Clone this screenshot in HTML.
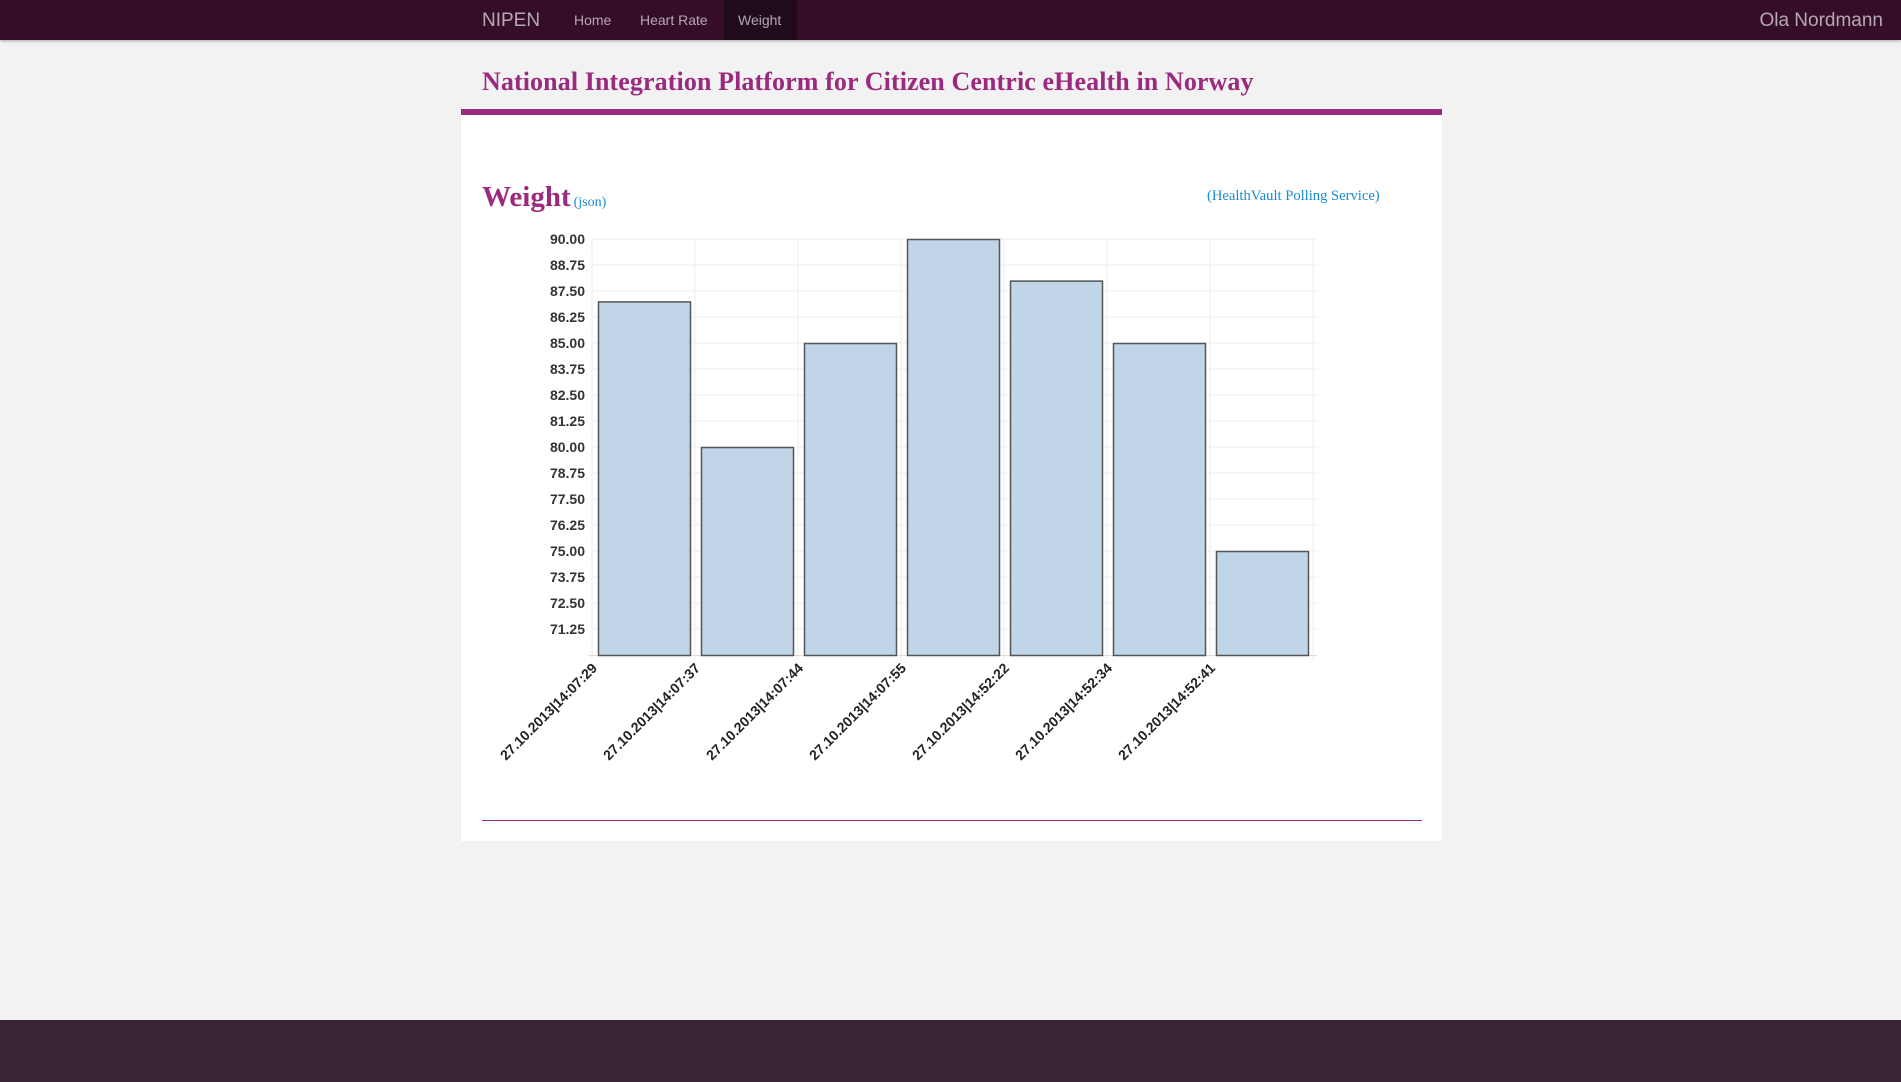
<!DOCTYPE html>
<html><head><meta charset="utf-8">
<style>
body{margin:0;width:1901px;height:1082px;background:#f2f2f2;position:relative;overflow:hidden;font-family:"Liberation Sans",sans-serif}
.nav{position:absolute;left:0;top:0;width:1901px;height:40px;background:#350d29;box-shadow:0 1px 3px rgba(0,0,0,.3)}
.nav span{position:absolute;color:#b5a9b2;font-size:15px;line-height:40px}
.active{position:absolute;left:724px;top:0;width:73px;height:40px;background:#1f0b1c}
.title{position:absolute;left:482px;top:67px;font-family:"Liberation Serif",serif;font-weight:bold;font-size:26px;color:#9b2a7e;letter-spacing:0.1px}
.bar{position:absolute;left:461px;top:109px;width:981px;height:6px;background:#9b2a7e}
.panel{position:absolute;left:461px;top:115px;width:981px;height:726px;background:#fff}
.footer{position:absolute;left:0;top:1020px;width:1901px;height:62px;background:#3c2437}
</style></head><body>
<div class="nav">
<div class="active"></div>
<span style="left:482px;font-size:19px;top:1px">NIPEN</span>
<span style="left:574px;font-size:14px">Home</span>
<span style="left:640px;font-size:14px">Heart Rate</span>
<span style="left:738px;font-size:14px">Weight</span>
<span style="right:18px;font-size:19px;top:1px">Ola Nordmann</span>
</div>
<div class="title">National Integration Platform for Citizen Centric eHealth in Norway</div>
<div class="bar"></div>
<div class="panel"></div>
<div style="position:absolute;left:482px;top:181px;font-family:'Liberation Serif',serif;font-weight:bold;font-size:29px;color:#9b2a7e">Weight<span style="font-weight:normal;font-size:14px;color:#1a8ad4;margin-left:3px">(json)</span></div>
<div style="position:absolute;left:1207px;top:188px;font-family:'Liberation Serif',serif;font-size:14.6px;color:#1a8ad4">(HealthVault Polling Service)</div>
<svg id="chart" style="position:absolute;left:0;top:0" width="1901" height="1082"></svg>
<div style="position:absolute;left:482px;top:820px;width:940px;height:1px;background:#9b2a7e"></div>
<div class="footer"></div>
<script>
const categories=["27.10.2013|14:07:29","27.10.2013|14:07:37","27.10.2013|14:07:44","27.10.2013|14:07:55","27.10.2013|14:52:22","27.10.2013|14:52:34","27.10.2013|14:52:41"];
const values=[87,80,85,90,88,85,75];
const yTicks=[71.25,72.5,73.75,75,76.25,77.5,78.75,80,81.25,82.5,83.75,85,86.25,87.5,88.75,90];
const yMin=70,yMax=90;
const L=592,R=1313,T=239,B=655;
const ns="http://www.w3.org/2000/svg";
const svg=document.getElementById('chart');
const y=v=>B-(v-yMin)/(yMax-yMin)*(B-T);
const bw=(R-L)/categories.length;
const x=i=>L+i*bw;
function mk(t,a){const e=document.createElementNS(ns,t);for(const k in a)e.setAttribute(k,a[k]);svg.appendChild(e);return e;}
yTicks.forEach(v=>{
const g=mk('line',{x1:L,x2:R+4,y1:y(v),y2:y(v),stroke:'#eeeeee','stroke-width':1});


const t=mk('text',{x:585,y:y(v)+5,'text-anchor':'end','font-size':14,'font-weight':'bold',fill:'#333','font-family':'Liberation Sans, sans-serif'});
t.textContent=v.toFixed(2);


});
for(let i=0;i<=categories.length;i++){
const g=mk('line',{x1:x(i),x2:x(i),y1:T,y2:B+4,stroke:'#eeeeee','stroke-width':1});


}
const ax=mk('line',{x1:L-4,x2:R+4,y1:B+.5,y2:B+.5,stroke:'#dddddd','stroke-width':1});


values.forEach((v,i)=>{
const r=mk('rect',{x:x(i)+6.5,y:y(v)+.5,width:bw-11,height:B-y(v),fill:'#c0d5e8',stroke:'#555','stroke-width':1.5});


});
categories.forEach((c,i)=>{
const px=x(i)+6,py=B+14;
const t=mk('text',{x:px,y:py,'text-anchor':'end','font-size':14,'font-weight':'bold',fill:'#222','font-family':'Liberation Sans, sans-serif',transform:`rotate(-45 ${px} ${py})`});
t.textContent=c;


});
</script>
</body></html>
